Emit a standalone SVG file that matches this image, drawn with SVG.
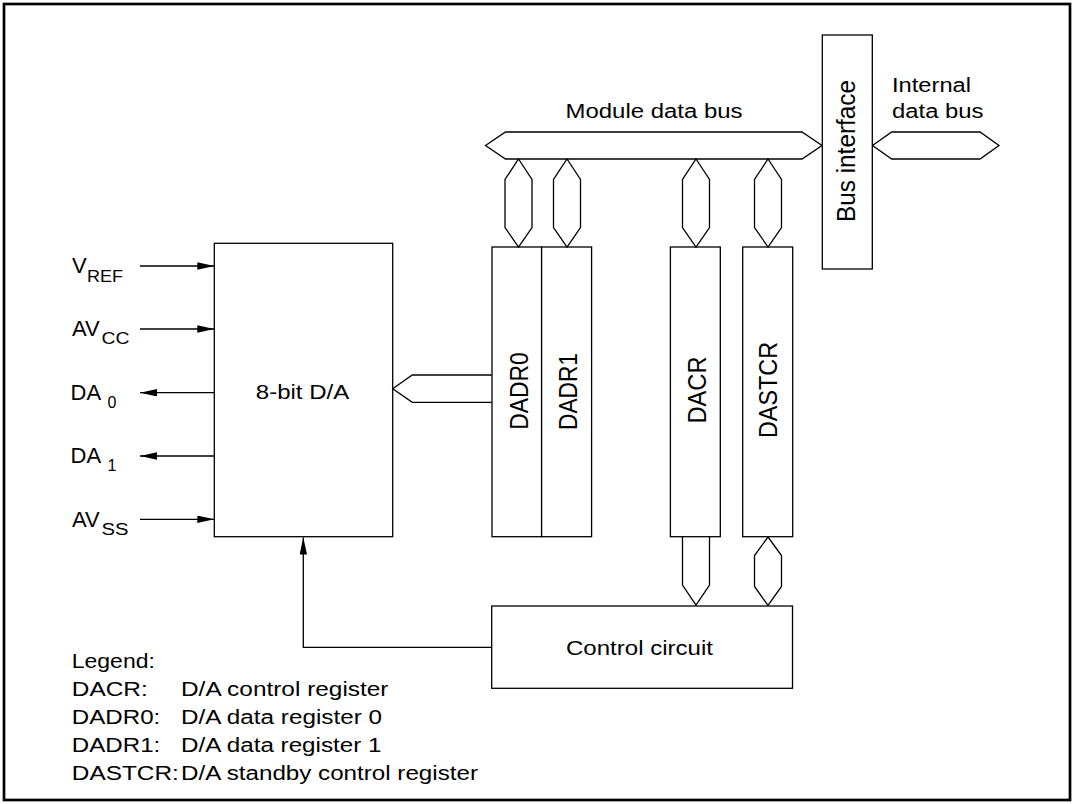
<svg xmlns="http://www.w3.org/2000/svg" width="1074" height="804" viewBox="0 0 1074 804">
<style>
.ln{fill:none;stroke:#000;stroke-width:1.3}
.box{fill:#fff;stroke:#000;stroke-width:1.3}
.t{font-family:"Liberation Sans",Arial,sans-serif;font-size:20px;fill:#000}
.pin{font-family:"Liberation Sans",Arial,sans-serif;font-size:22px;fill:#000}
.sub{font-family:"Liberation Sans",Arial,sans-serif;font-size:16px;fill:#000}
.rt{font-family:"Liberation Sans",Arial,sans-serif;font-size:22px;fill:#000;text-anchor:middle}
</style>
<defs>
<marker id="ah" markerUnits="userSpaceOnUse" markerWidth="18" markerHeight="8" refX="17" refY="3.75" orient="auto">
<path d="M0,0 L17,3.75 L0,7.5 z" fill="#000"/>
</marker>
</defs>
<rect x="4" y="4" width="1066" height="796" fill="#fff" stroke="#000" stroke-width="2.7"/>

<g id="module-bus">
<polygon class="box" points="485.5,145.5 505.5,132 802,132 822,145.5 802,159 505.5,159"/>
<text class="t" x="565.5" y="118" textLength="177" lengthAdjust="spacingAndGlyphs">Module data bus</text>
</g>
<g id="internal-bus">
<polygon class="box" points="872.5,145.5 891.7,132 980,132 999,145.5 980,159 891.7,159"/>
<text class="t" x="892" y="92.3" textLength="79" lengthAdjust="spacingAndGlyphs">Internal</text>
<text class="t" x="892" y="117.5" textLength="91.5" lengthAdjust="spacingAndGlyphs">data bus</text>
</g>
<g id="bus-interface">
<rect class="box" x="822.3" y="35" width="50" height="234"/>
<text class="rt" transform="translate(854.5,151) scale(1.15,1) rotate(-90)" textLength="142" lengthAdjust="spacingAndGlyphs">Bus interface</text>
</g>

<g id="da">
<rect class="box" x="214.3" y="243.3" width="178.4" height="293.4"/>
<text class="t" x="255.8" y="399" textLength="93.5" lengthAdjust="spacingAndGlyphs">8-bit D/A</text>
</g>
<g id="dadr0">
<rect class="box" x="492" y="247" width="49.6" height="289.7"/>
<text class="rt" transform="translate(528,391) scale(1.15,1) rotate(-90)" textLength="77.5" lengthAdjust="spacingAndGlyphs">DADR0</text>
</g>
<g id="dadr1">
<rect class="box" x="541.6" y="247" width="50" height="289.7"/>
<text class="rt" transform="translate(577,391.5) scale(1.15,1) rotate(-90)" textLength="77" lengthAdjust="spacingAndGlyphs">DADR1</text>
</g>
<g id="dacr">
<rect class="box" x="670.4" y="247" width="49.9" height="289.7"/>
<text class="rt" transform="translate(706,390) scale(1.15,1) rotate(-90)" textLength="67" lengthAdjust="spacingAndGlyphs">DACR</text>
</g>
<g id="dastcr">
<rect class="box" x="742.7" y="247" width="50" height="289.7"/>
<text class="rt" transform="translate(777,390) scale(1.15,1) rotate(-90)" textLength="96" lengthAdjust="spacingAndGlyphs">DASTCR</text>
</g>
<g id="control">
<rect class="box" x="491.7" y="606" width="300.8" height="82.3"/>
<text class="t" x="566" y="655" textLength="147" lengthAdjust="spacingAndGlyphs">Control circuit</text>
</g>

<g id="connectors">
<polygon class="box" points="518.5,159 532,179.5 532,227.5 518.5,247 505,227.5 505,179.5"/>
<polygon class="box" points="567,159 580.5,179.5 580.5,227.5 567,247 553.5,227.5 553.5,179.5"/>
<polygon class="box" points="696,159 709.5,179.5 709.5,227.5 696,247 682.5,227.5 682.5,179.5"/>
<polygon class="box" points="768,159 781.5,179.5 781.5,227.5 768,247 754.5,227.5 754.5,179.5"/>
<path class="ln" d="M491.7,375 H412.3 L392.7,388.7 L412.3,402.3 H491.7"/>
<path class="ln" d="M682.5,536.7 V585 L696,605 L709.5,585 V536.7"/>
<polygon class="box" points="768,537 781.5,555.5 781.5,586.5 768,605.5 754.5,586.5 754.5,555.5"/>
<path class="ln" d="M491.7,647.3 H303.3 V537.5" marker-end="url(#ah)"/>
<line class="ln" x1="140" y1="266" x2="214.3" y2="266" marker-end="url(#ah)"/>
<line class="ln" x1="140" y1="329" x2="214.3" y2="329" marker-end="url(#ah)"/>
<line class="ln" x1="214.3" y1="392.7" x2="140" y2="392.7" marker-end="url(#ah)"/>
<line class="ln" x1="214.3" y1="456" x2="140" y2="456" marker-end="url(#ah)"/>
<line class="ln" x1="140" y1="519.3" x2="214.3" y2="519.3" marker-end="url(#ah)"/>
</g>

<g id="pins">
<text class="pin" x="72" y="273.3">V</text><text class="sub" x="87" y="281.7" textLength="36" lengthAdjust="spacingAndGlyphs">REF</text>
<text class="pin" x="72" y="336">AV</text><text class="sub" x="101.5" y="344.3" textLength="28" lengthAdjust="spacingAndGlyphs">CC</text>
<text class="pin" x="70.5" y="400">DA</text><text class="sub" x="107.5" y="408.3">0</text>
<text class="pin" x="70.5" y="463.3">DA</text><text class="sub" x="107.5" y="471">1</text>
<text class="pin" x="72" y="526.7">AV</text><text class="sub" x="101.5" y="535" textLength="27" lengthAdjust="spacingAndGlyphs">SS</text>
</g>

<g id="legend">
<text class="t" x="71.8" y="668.3" textLength="83" lengthAdjust="spacingAndGlyphs">Legend:</text>
<text class="t" x="71.8" y="695.5" textLength="76" lengthAdjust="spacingAndGlyphs">DACR:</text>
<text class="t" x="181" y="695.5" textLength="207.5" lengthAdjust="spacingAndGlyphs">D/A control register</text>
<text class="t" x="71.8" y="723.5" textLength="88.5" lengthAdjust="spacingAndGlyphs">DADR0:</text>
<text class="t" x="181" y="723.5" textLength="201" lengthAdjust="spacingAndGlyphs">D/A data register 0</text>
<text class="t" x="71.8" y="751.5" textLength="88.5" lengthAdjust="spacingAndGlyphs">DADR1:</text>
<text class="t" x="181" y="751.5" textLength="200.5" lengthAdjust="spacingAndGlyphs">D/A data register 1</text>
<text class="t" x="71.8" y="780" textLength="107" lengthAdjust="spacingAndGlyphs">DASTCR:</text>
<text class="t" x="181" y="780" textLength="297" lengthAdjust="spacingAndGlyphs">D/A standby control register</text>
</g>
</svg>
